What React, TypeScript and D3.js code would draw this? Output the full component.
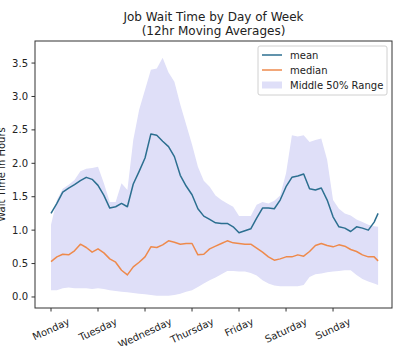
import React from 'react';
import * as d3 from 'd3';

// hours since Monday 00:00 (3-hour sampling)
const hours = [0, 3, 6, 9, 12, 15, 18, 21, 24, 27, 30, 33, 36, 39, 42, 45, 48, 51, 54, 57,
  60, 63, 66, 69, 72, 75, 78, 81, 84, 87, 90, 93, 96, 99, 102, 105, 108, 111, 114, 117,
  120, 123, 126, 129, 132, 135, 138, 141, 144, 147, 150, 153, 156, 159, 162, 165, 167];

const meanValues = [1.25, 1.40, 1.57, 1.63, 1.68, 1.74, 1.79, 1.76, 1.67, 1.52,
  1.33, 1.35, 1.40, 1.35, 1.69, 1.88, 2.08, 2.44, 2.42, 2.33,
  2.25, 2.10, 1.82, 1.66, 1.53, 1.32, 1.21, 1.16, 1.11, 1.10,
  1.10, 1.05, 0.96, 0.99, 1.02, 1.18, 1.33, 1.33, 1.32, 1.45,
  1.65, 1.79, 1.81, 1.84, 1.62, 1.60, 1.63, 1.45, 1.20, 1.05,
  1.03, 0.98, 1.05, 1.03, 1.00, 1.12, 1.25];

const medianValues = [0.53, 0.60, 0.64, 0.63, 0.69, 0.79, 0.74, 0.67, 0.72, 0.66,
  0.57, 0.52, 0.40, 0.33, 0.45, 0.52, 0.60, 0.75, 0.74, 0.78,
  0.84, 0.82, 0.79, 0.80, 0.80, 0.63, 0.64, 0.72, 0.76, 0.80,
  0.84, 0.81, 0.80, 0.79, 0.79, 0.73, 0.67, 0.60, 0.55, 0.57,
  0.60, 0.60, 0.63, 0.61, 0.68, 0.77, 0.80, 0.77, 0.75, 0.78,
  0.76, 0.71, 0.68, 0.63, 0.60, 0.60, 0.54];

const lowerValues = [0.10, 0.10, 0.13, 0.14, 0.13, 0.13, 0.13, 0.12, 0.13, 0.12,
  0.10, 0.09, 0.08, 0.07, 0.06, 0.05, 0.04, 0.03, 0.02, 0.02,
  0.02, 0.03, 0.05, 0.08, 0.10, 0.15, 0.20, 0.25, 0.29, 0.34,
  0.39, 0.39, 0.38, 0.38, 0.36, 0.32, 0.25, 0.20, 0.17, 0.16,
  0.16, 0.16, 0.16, 0.18, 0.30, 0.34, 0.35, 0.37, 0.38, 0.39,
  0.40, 0.40, 0.33, 0.27, 0.23, 0.20, 0.18];

const upperValues = [1.08, 1.45, 1.62, 1.68, 1.75, 1.88, 1.92, 1.93, 1.95, 1.70,
  1.42, 1.42, 1.70, 1.60, 2.35, 2.80, 3.10, 3.40, 3.42, 3.58,
  3.36, 3.22, 2.88, 2.58, 2.28, 1.95, 1.74, 1.65, 1.52, 1.45,
  1.40, 1.35, 1.21, 1.21, 1.21, 1.38, 1.42, 1.40, 1.44, 1.52,
  1.85, 2.42, 2.40, 2.42, 2.32, 2.35, 2.37, 2.05, 1.45, 1.32,
  1.25, 1.22, 1.16, 1.12, 1.08, 1.06, 1.05];

const dayLabels = ['Monday', 'Tuesday', 'Wednesday', 'Thursday', 'Friday', 'Saturday', 'Sunday'];
const dayTicks = [0, 24, 48, 72, 96, 120, 144];
const yTicks = [0, 0.5, 1.0, 1.5, 2.0, 2.5, 3.0, 3.5];

const titleLines = ['Job Wait Time by Day of Week', '(12hr Moving Averages)'];
const yLabel = 'Wait Time in Hours';
const legendLabels = ['mean', 'median', 'Middle 50% Range'];

const FONT = 'DejaVu Sans, sans-serif';
const MEAN_COLOR = '#2c6f90';
const MEDIAN_COLOR = '#ee8a4c';
const BAND_COLOR = '#dfdff8';
const SPINE = '#333333';

function measure(text: string, size: number): number {
  const c = document.createElement('canvas').getContext('2d');
  if (!c) return text.length * size * 0.6;
  c.font = `${size}px "DejaVu Sans"`;
  return c.measureText(text).width;
}

export default function App() {
  const W = 400, H = 346;
  const L = 35, R = 392, T = 41, B = 308;
  const x = d3.scaleLinear().domain([-8.17, 174.1]).range([L, R]);
  const y = d3.scaleLinear().domain([-0.165, 3.83]).range([B, T]);

  const pts = hours.map((h, i) => ({
    h, mean: meanValues[i], med: medianValues[i], lo: lowerValues[i], hi: upperValues[i],
  }));

  const area = d3.area<any>().x(d => x(d.h)).y0(d => y(d.lo)).y1(d => y(d.hi));
  const meanLine = d3.line<any>().x(d => x(d.h)).y(d => y(d.mean));
  const medLine = d3.line<any>().x(d => x(d.h)).y(d => y(d.med));

  const angle = 25;
  const rad = angle * Math.PI / 180;
  const labelTop = 315.5;
  const lineH = 11.6;

  const lx = 258, ly = 46, lw = 129, lh = 49;

  return (
    <svg width={W} height={H} style={{ position: 'absolute', left: 0, top: 0, background: '#fff' }}
      fontFamily={FONT}>
      <rect x={0} y={0} width={W} height={H} fill="#fff" />
      {titleLines.map((t, i) => (
        <text key={i} x={(L + R) / 2} y={21 + i * 14} textAnchor="middle" fontSize={12} fill="#222">{t}</text>
      ))}

      <clipPath id="plot"><rect x={L} y={T} width={R - L} height={B - T} /></clipPath>
      <g clipPath="url(#plot)">
        <path d={area(pts) || ''} fill={BAND_COLOR} stroke="none" />
        <path d={meanLine(pts) || ''} fill="none" stroke={MEAN_COLOR} strokeWidth={1.5} strokeLinejoin="round" />
        <path d={medLine(pts) || ''} fill="none" stroke={MEDIAN_COLOR} strokeWidth={1.5} strokeLinejoin="round" />
      </g>

      <rect x={L} y={T} width={R - L} height={B - T} fill="none" stroke={SPINE} strokeWidth={1} />

      {yTicks.map(v => (
        <g key={v}>
          <line x1={L - 3.5} x2={L} y1={y(v)} y2={y(v)} stroke={SPINE} strokeWidth={1} />
          <text x={L - 7} y={y(v)} dy="0.35em" textAnchor="end" fontSize={10} fill="#222">{d3.format('.1f')(v)}</text>
        </g>
      ))}

      {dayTicks.map((h, i) => {
        const w = measure(dayLabels[i], 10);
        const bh = w * Math.sin(rad) + lineH * Math.cos(rad);
        const cy = labelTop + bh / 2;
        return (
          <g key={h}>
            <line x1={x(h)} x2={x(h)} y1={B} y2={B + 3.5} stroke={SPINE} strokeWidth={1} />
            <text transform={`translate(${x(h)},${cy}) rotate(${-angle})`} textAnchor="middle"
              dominantBaseline="central" fontSize={10} fill="#222">{dayLabels[i]}</text>
          </g>
        );
      })}

      <text transform={`translate(5,${(T + B) / 2}) rotate(-90)`} textAnchor="middle" fontSize={10} fill="#222">{yLabel}</text>

      <g>
        <rect x={lx} y={ly} width={lw} height={lh} rx={2} fill="#fff" fillOpacity={0.8} stroke="#d0d0d0" strokeWidth={1} />
        <line x1={262} x2={282} y1={55} y2={55} stroke={MEAN_COLOR} strokeWidth={1.5} />
        <text x={290} y={55} dy="0.35em" fontSize={10} fill="#222">{legendLabels[0]}</text>
        <line x1={262} x2={282} y1={70} y2={70} stroke={MEDIAN_COLOR} strokeWidth={1.5} />
        <text x={290} y={70} dy="0.35em" fontSize={10} fill="#222">{legendLabels[1]}</text>
        <rect x={262} y={81.5} width={20} height={7} fill={BAND_COLOR} />
        <text x={290} y={85} dy="0.35em" fontSize={10} fill="#222">{legendLabels[2]}</text>
      </g>
    </svg>
  );
}
